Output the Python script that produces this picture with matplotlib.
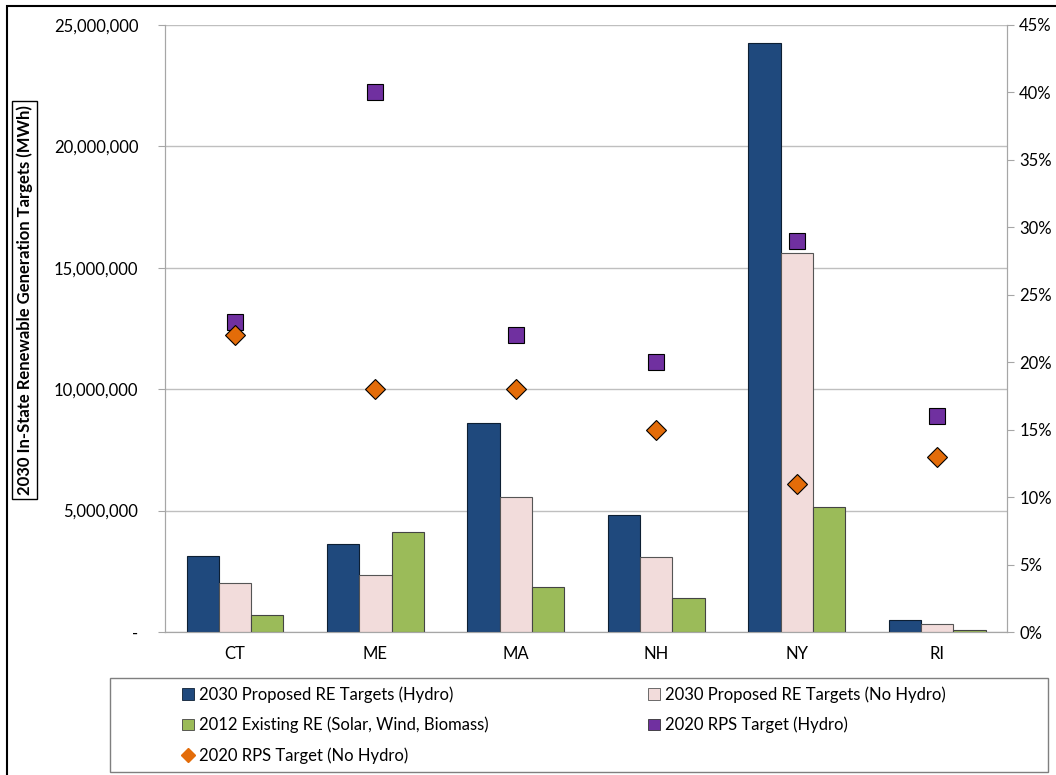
import matplotlib.pyplot as plt
import numpy as np
from matplotlib.ticker import FuncFormatter, PercentFormatter
from matplotlib.lines import Line2D
from matplotlib.patches import Rectangle

plt.rcParams['font.family'] = ['Lato', 'DejaVu Sans']

states = ['CT', 'ME', 'MA', 'NH', 'NY', 'RI']
re_hydro = [3130000, 3620000, 8610000, 4820000, 24260000, 490000]
re_no_hydro = [2020000, 2350000, 5560000, 3090000, 15600000, 330000]
existing_2012 = [700000, 4120000, 1850000, 1400000, 5150000, 80000]
rps_hydro = [23, 40, 22, 20, 29, 16]
rps_no_hydro = [22, 18, 18, 15, 11, 13]

fig = plt.figure(figsize=(10.56, 7.75), dpi=100)
ax = fig.add_axes([0.156, 0.1845, 0.798, 0.7835])
ax2 = ax.twinx()

x = np.arange(len(states))
w = 0.23
ax.bar(x - w, re_hydro, w, color='#1F497D', edgecolor='#0d1f33', linewidth=0.8, zorder=3)
ax.bar(x, re_no_hydro, w, color='#F2DCDB', edgecolor='#555555', linewidth=0.8, zorder=3)
ax.bar(x + w, existing_2012, w, color='#9BBB59', edgecolor='#444444', linewidth=0.8, zorder=3)

ax2.plot(x, rps_hydro, 's', color='#7030A0', markeredgecolor='black', markeredgewidth=0.8,
         markersize=12, linestyle='none', zorder=4)
ax2.plot(x, rps_no_hydro, 'D', color='#E36C09', markeredgecolor='black', markeredgewidth=0.8,
         markersize=10, linestyle='none', zorder=4)

ax.set_xlim(-0.5, len(states) - 0.5)
ax.set_ylim(0, 25000000)
ax.set_yticks(np.arange(0, 25000001, 5000000))
ax.yaxis.set_major_formatter(FuncFormatter(lambda v, p: '-' if v == 0 else f'{int(v):,}'))
ax2.set_ylim(0, 45)
ax2.set_yticks(np.arange(0, 46, 5))
ax2.yaxis.set_major_formatter(PercentFormatter(decimals=0))

ax.set_xticks(x)
ax.set_xticklabels(states)
ax.grid(axis='y', color='#bfbfbf', linewidth=1, zorder=0)
ax.set_axisbelow(True)

for a in (ax, ax2):
    a.spines['top'].set_visible(False)
    a.spines['left'].set_color('#a6a6a6')
    a.spines['right'].set_color('#a6a6a6')
    a.spines['bottom'].set_color('#a6a6a6')
    a.tick_params(axis='y', colors='#a6a6a6', labelcolor='black', labelsize=12, length=5)
ax.tick_params(axis='x', length=0, labelsize=12, pad=10)
ax.tick_params(axis='y', pad=14)

fig.text(24.5 / 1056, 1 - 300 / 775, '2030 In-State Renewable Generation Targets (MWh)', rotation=90,
         ha='center', va='center', fontsize=12, fontweight='bold',
         bbox=dict(boxstyle='square,pad=0.25', facecolor='white', edgecolor='black', linewidth=1))

handles = [
    Rectangle((0, 0), 1, 1, facecolor='#1F497D', edgecolor='#0d1f33', linewidth=0.6),
    Rectangle((0, 0), 1, 1, facecolor='#9BBB59', edgecolor='#444444', linewidth=0.6),
    Line2D([], [], marker='D', color='#E36C09', linestyle='none', markersize=7, markeredgecolor='#E36C09'),
    Rectangle((0, 0), 1, 1, facecolor='#F2DCDB', edgecolor='#555555', linewidth=0.6),
    Rectangle((0, 0), 1, 1, facecolor='#7030A0', edgecolor='#333333', linewidth=0.6),
]
labels = [
    '2030 Proposed RE Targets (Hydro)',
    '2012 Existing RE (Solar, Wind, Biomass)',
    '2020 RPS Target (No Hydro)',
    '2030 Proposed RE Targets (No Hydro)',
    '2020 RPS Target (Hydro)',
]
# legend box drawn separately so the columns can sit where they do in the original
fig.patches.append(Rectangle((110 / 1056, 1 - 772 / 775), 938 / 1056, 94 / 775, transform=fig.transFigure,
                             fill=False, edgecolor='#7f7f7f', linewidth=1))
leg = fig.legend(handles, labels, ncol=2, loc='upper left', bbox_to_anchor=(182 / 1056, 1 - 686 / 775),
                 frameon=False, fontsize=12, handlelength=0.7, handleheight=0.7, handletextpad=0.3,
                 labelspacing=0.85, columnspacing=9.6, borderpad=0, borderaxespad=0)

fig.patches.append(Rectangle((0.007, -0.01), 1.0, 1.002, transform=fig.transFigure,
                             fill=False, edgecolor='black', linewidth=1.5))

fig.savefig('out.png', dpi=100)
